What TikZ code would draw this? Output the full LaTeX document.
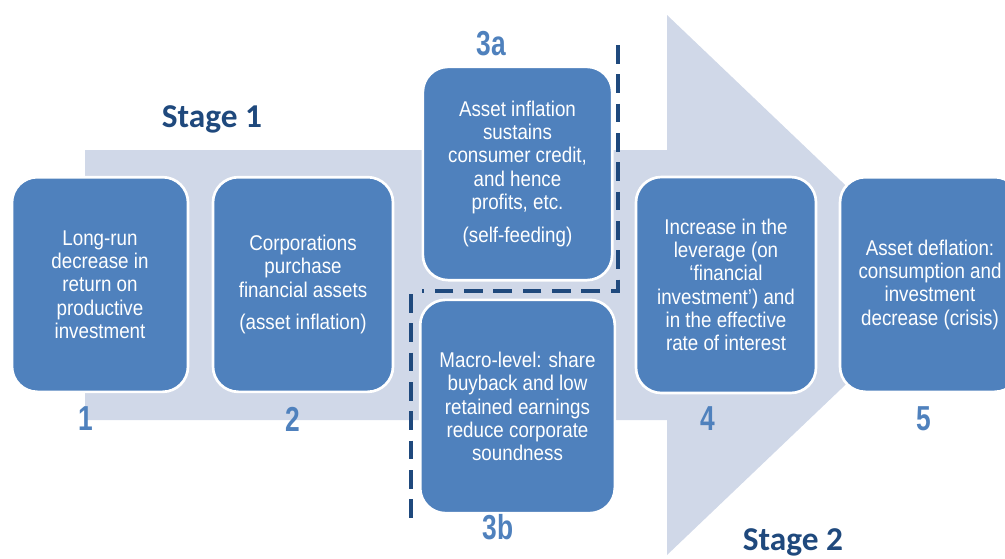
\documentclass[tikz,border=0pt]{standalone}
\usepackage{fontspec}
\setmainfont{Liberation Sans}
\newfontfamily\stagefont{Carlito}
\newfontfamily\boxfont[FakeStretch=0.88]{Liberation Sans}
\newfontfamily\numfont[FakeStretch=0.76]{Liberation Sans}
\definecolor{boxblue}{HTML}{4F81BD}
\definecolor{bandgray}{HTML}{D0D8E8}
\definecolor{darkblue}{HTML}{1F497D}
\tikzset{
  stagebox/.style={draw=white, line width=2pt, fill=boxblue, rounded corners=19pt,
    text=white, align=center, inner sep=2pt,
    font=\boxfont\fontsize{16}{17.5}\selectfont},
  numlabel/.style={text=boxblue, font=\numfont\bfseries\fontsize{26}{26}\selectfont, inner sep=0pt},
  stagelabel/.style={text=darkblue, font=\stagefont\bfseries\fontsize{25}{25}\selectfont, inner sep=0pt},
  sepline/.style={draw=darkblue, line width=3pt, dash pattern=on 14pt off 8pt}
}
\begin{document}
\begin{tikzpicture}[x=0.75pt,y=-0.75pt]
\useasboundingbox (0,0) rectangle (1005,558);
\clip (0,0) rectangle (1005,558);
% background arrow
\fill[bandgray] (85,150) -- (667,150) -- (667,15) -- (950,285) -- (667,555) -- (667,420) -- (85,420) -- cycle;
% boxes
\node[stagebox, minimum width=132pt, minimum height=161pt] (b1) at (100,284.5)
  {Long-run\\decrease in\\return on\\productive\\investment};
\node[stagebox, minimum width=135pt, minimum height=161pt] (b2) at (303,284.5)
  {Corporations\\purchase\\financial assets\\[7pt](asset inflation)};
\node[stagebox, minimum width=142pt, minimum height=160pt] (b3a) at (517.5,173.5)
  {Asset inflation\\sustains\\consumer credit,\\and hence\\profits, etc.\\[7pt](self-feeding)};
\node[stagebox, minimum width=146pt, minimum height=160pt] (b3b) at (517.5,406.5)
  {Macro-level: share\\buyback and low\\retained earnings\\reduce corporate\\soundness};
\node[stagebox, minimum width=135pt, minimum height=162pt] (b4) at (726,285)
  {Increase in the\\leverage (on\\‘financial\\investment’) and\\in the effective\\rate of interest};
\node[stagebox, minimum width=135pt, minimum height=161pt] (b5) at (930,284.5)
  {Asset deflation:\\consumption and\\investment\\decrease (crisis)};
% dashed separators
\coordinate (d1) at (618,45);
\coordinate (d2) at (618,291);
\coordinate (d3) at (422,291);
\coordinate (d4) at (411,294);
\coordinate (d5) at (411,520);
\draw[sepline] (d1) -- (d2) -- (d3);
\draw[sepline] (d4) -- (d5);
% numbers
\node[numlabel] (n1) at (86,419) {1};
\node[numlabel] (n2) at (293,419) {2};
\node[numlabel] (n3a) at (491,44) {3a};
\node[numlabel] (n3b) at (498,527) {3b};
\node[numlabel] (n4) at (708,419) {4};
\node[numlabel] (n5) at (924,419) {5};
% stage labels
\node[stagelabel] (s1) at (212,119) {Stage 1};
\node[stagelabel] (s2) at (793,542) {Stage 2};
\end{tikzpicture}
\end{document}
